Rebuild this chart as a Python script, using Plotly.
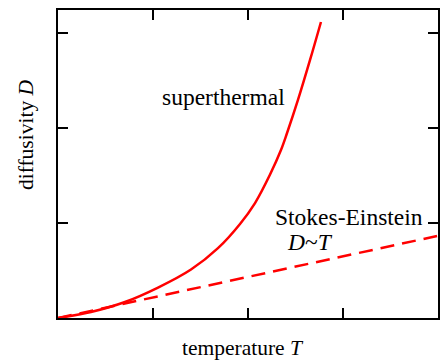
import plotly.graph_objects as go

# superthermal curve
super_T = [0.0, 0.347, 0.705, 1.053, 1.40, 1.684, 1.916, 2.074, 2.232, 2.347, 2.411, 2.526, 2.653, 2.768]
super_D = [0.0, 0.063, 0.168, 0.32, 0.51, 0.735, 0.99, 1.21, 1.51, 1.768, 1.947, 2.295, 2.716, 3.116]

# Stokes-Einstein line D~T
se_T = [0.0, 3.99]
se_D = [0.0, 0.863]

font = "Liberation Serif"

fig = go.Figure()
fig.add_trace(go.Scatter(x=super_T, y=super_D, mode="lines",
                         line=dict(color="#ff0000", width=2.5, shape="spline", smoothing=1),
                         showlegend=False, hoverinfo="skip"))
fig.add_trace(go.Scatter(x=se_T, y=se_D, mode="lines",
                         line=dict(color="#ff0000", width=2.5, dash="14px,8px"),
                         showlegend=False, hoverinfo="skip"))

fig.add_annotation(x=1.737, y=2.33, text="superthermal", showarrow=False,
                   font=dict(family=font, size=23.5, color="black"))
fig.add_annotation(x=2.263, y=1.063, text="Stokes-Einstein", showarrow=False,
                   xanchor="left", font=dict(family=font, size=23.5, color="black"))
fig.add_annotation(x=2.39, y=0.80, text="<i>D</i>~<i>T</i>", showarrow=False,
                   xanchor="left", font=dict(family=font, size=23.5, color="black"))

# axis titles
fig.add_annotation(xref="paper", yref="paper", x=0.487, y=0, yshift=-30,
                   text="temperature <i>T</i>", showarrow=False, yanchor="middle",
                   font=dict(family=font, size=21.5, color="black"))
fig.add_annotation(xref="paper", yref="paper", x=0, xshift=-32, y=0.594,
                   text="diffusivity <i>D</i>", showarrow=False, textangle=-90,
                   xanchor="center", yanchor="middle",
                   font=dict(family=font, size=21.5, color="black"))

axis_common = dict(showgrid=False, zeroline=False, showline=True, linecolor="black",
                   linewidth=2, mirror="ticks", ticks="inside", ticklen=10,
                   tickwidth=2, tickcolor="black", showticklabels=False,
                   tickvals=[1, 2, 3], automargin=False)
fig.update_xaxes(range=[0, 4], **axis_common)
fig.update_yaxes(range=[0, 3.242], **axis_common)

fig.update_layout(width=446, height=360, margin=dict(l=58, r=8, t=10, b=42),
                  plot_bgcolor="white", paper_bgcolor="white",
                  font=dict(family=font))
fig.write_html("out.html", config={"displayModeBar": False},
               post_script="document.body.style.margin='0';")
